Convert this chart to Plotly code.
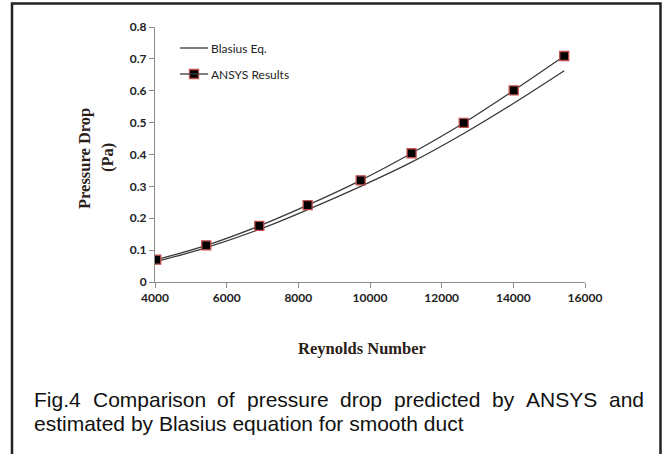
import plotly.graph_objects as go

reynolds = [4035, 5430, 6910, 8260, 9740, 11160, 12615, 14010, 15420]
ansys_dp = [0.070, 0.115, 0.176, 0.241, 0.319, 0.404, 0.499, 0.601, 0.709]
blasius_dp = [0.064, 0.108, 0.165, 0.227, 0.300, 0.376, 0.466, 0.561, 0.663]

x_ticks = [4000, 6000, 8000, 10000, 12000, 14000, 16000]
y_ticks = [0, 0.1, 0.2, 0.3, 0.4, 0.5, 0.6, 0.7, 0.8]

caption_line1 = ["Fig.4", "Comparison", "of", "pressure", "drop", "predicted", "by", "ANSYS", "and"]
caption_line1_px = [32, 90.5, 215.4, 244.7, 338.1, 391.9, 490.0, 524.0, 606.9]
caption_line2 = "estimated by Blasius equation for smooth duct"

W, H = 665, 454
L, R, T, B = 155, 585, 27, 282  # plot area in pixels


def px(x):
    return (x - L) / (R - L)


def py(y):
    return (B - y) / (B - T)


fig = go.Figure()
fig.add_trace(go.Scatter(
    x=reynolds, y=blasius_dp, mode="lines", name="Blasius Eq.",
    line=dict(color="#3a3a3a", width=1.3, shape="spline"),
    showlegend=False,
))
fig.add_trace(go.Scatter(
    x=reynolds, y=ansys_dp, mode="lines+markers", name="ANSYS Results",
    line=dict(color="#3a3a3a", width=1.3, shape="spline"),
    marker=dict(symbol="square", size=9, color="black",
                line=dict(color="#c0504d", width=1.3)),
    showlegend=False,
))

# legend (drawn manually to match position)
fig.add_shape(type="line", xref="paper", yref="paper",
              x0=px(180), x1=px(208), y0=py(48), y1=py(48),
              line=dict(color="#3a3a3a", width=1.3))
fig.add_shape(type="line", xref="paper", yref="paper",
              x0=px(180), x1=px(208), y0=py(74), y1=py(74),
              line=dict(color="#3a3a3a", width=1.3))
fig.add_trace(go.Scatter(
    x=[4000 + (194 - L) / (R - L) * 12000], y=[0.8 * py(74)], mode="markers",
    marker=dict(symbol="square", size=9, color="black",
                line=dict(color="#c0504d", width=1.3)),
    showlegend=False, hoverinfo="skip", cliponaxis=False,
))
legend_font = dict(family="Lato, Carlito, sans-serif", size=12, color="#222")
fig.add_annotation(text="Blasius Eq.", xref="paper", yref="paper",
                   x=px(209), y=py(48), xanchor="left", yanchor="middle",
                   showarrow=False, font=legend_font)
fig.add_annotation(text="ANSYS Results", xref="paper", yref="paper",
                   x=px(209), y=py(74), xanchor="left", yanchor="middle",
                   showarrow=False, font=legend_font)

# axis titles
title_font = dict(family="Liberation Serif, Times New Roman, serif", size=16.5, color="#2a2018")
fig.add_annotation(text="<b>Pressure Drop</b>", xref="paper", yref="paper",
                   x=px(85), y=py(159), textangle=-90, showarrow=False,
                   xanchor="center", yanchor="middle", font=title_font)
fig.add_annotation(text="<b>(Pa)</b>", xref="paper", yref="paper",
                   x=px(107), y=py(158), textangle=-90, showarrow=False,
                   xanchor="center", yanchor="middle", font=title_font)
fig.add_annotation(text="<b>Reynolds Number</b>", xref="paper", yref="paper",
                   x=px(362), y=py(348), showarrow=False,
                   xanchor="center", yanchor="middle", font=title_font)

# caption (first line justified word by word)
cap_font = dict(family="Liberation Sans, Arial, sans-serif", size=21, color="#111")
for word, xp in zip(caption_line1, caption_line1_px):
    fig.add_annotation(text=word, xref="paper", yref="paper",
                       x=px(xp), y=py(399), xanchor="left", yanchor="middle",
                       showarrow=False, font=cap_font)
fig.add_annotation(text=caption_line2, xref="paper", yref="paper",
                   x=px(32), y=py(423), xanchor="left", yanchor="middle",
                   showarrow=False, font=cap_font)

# outer border
fig.add_shape(type="path", xref="paper", yref="paper",
              path=f"M {px(12)} {py(470)} L {px(12)} {py(3.5)} L {px(660.5)} {py(3.5)} L {px(660.5)} {py(470)}",
              line=dict(color="#222", width=2.5))

tick_font = dict(family="Lato, Carlito, sans-serif", size=12, color="#222")
fig.update_xaxes(range=[4000, 16000], tickvals=x_ticks,
                 ticktext=[f"<b>{v}</b>" for v in x_ticks],
                 showgrid=False, zeroline=False, showline=True,
                 linecolor="#8c8c8c", linewidth=1, ticks="outside",
                 tickcolor="#8c8c8c", ticklen=5, tickfont=tick_font)
fig.update_yaxes(range=[0, 0.8], tickvals=y_ticks,
                 ticktext=[f"<b>{v:g}</b>" for v in y_ticks],
                 showgrid=False, zeroline=False, showline=True,
                 linecolor="#8c8c8c", linewidth=1, ticks="outside",
                 tickcolor="#8c8c8c", ticklen=5, tickfont=tick_font)

fig.update_layout(
    width=W, height=H,
    margin=dict(l=L, r=W - R, t=T, b=H - B),
    paper_bgcolor="white", plot_bgcolor="white",
    showlegend=False,
)

fig.write_html("out.html")
